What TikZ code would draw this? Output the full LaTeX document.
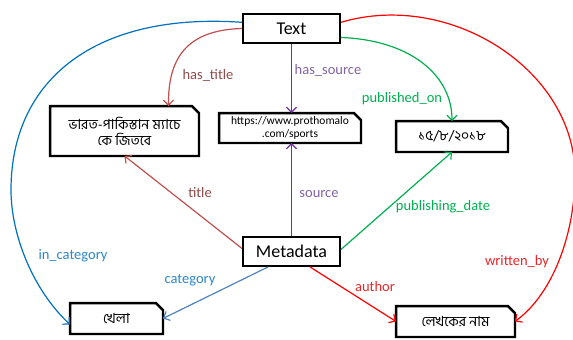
\documentclass[tikz,border=0pt]{standalone}
\usepackage{fontspec}
\setmainfont{Carlito}
\newfontfamily\bn[Script=Bengali]{Hind Siliguri}
\usetikzlibrary{arrows.meta,calc}
\definecolor{cblue}{HTML}{0070C0}
\definecolor{cblue2}{HTML}{4F81BD}
\definecolor{cblueT}{HTML}{2E86C8}
\definecolor{cbrown}{HTML}{C0504D}
\definecolor{cbrownT}{HTML}{8E4B49}
\definecolor{cpurple}{HTML}{7030A0}
\definecolor{cpurpleT}{HTML}{8064A2}
\definecolor{cgreen}{HTML}{00B050}
\definecolor{cred}{HTML}{FF0000}
\definecolor{credT}{HTML}{E8262A}
\tikzset{
  plainbox/.style={draw, line width=2.4pt, inner sep=0pt, outer sep=1.2pt, align=center},
  snipbox/.style={inner sep=0pt, outer sep=1.2pt, align=center},
  conn/.style={line width=1.2pt, -{Straight Barb[length=5pt,width=10pt]}},
  plainline/.style={line width=1.2pt},
  lbl/.style={inner sep=1pt, font=\fontsize{14.5}{16}\selectfont},
}
\begin{document}
\begin{tikzpicture}[x=1pt,y=-1pt]
\useasboundingbox (0,0) rectangle (573,340);
% nodes
\node[plainbox, minimum width=96.5pt, minimum height=28.5pt, font=\fontsize{18}{20}\selectfont] (txt) at (291.5,28.5) {Text};
\node[plainbox, minimum width=96.5pt, minimum height=28.5pt, font=\fontsize{18}{20}\selectfont] (meta) at (291.5,251.5) {Metadata};
\node[snipbox, minimum width=146.5pt, minimum height=47.5pt, font=\bn\fontsize{14}{16}\selectfont] (ttl) at (124.5,131) {ভারত-পাকিস্তান ম্যাচে\\কে জিতবে};
\node[snipbox, minimum width=139.5pt, minimum height=27.5pt, font=\fontsize{11.5}{13.5}\selectfont] (url) at (290,128) {https://www.prothomalo\\.com/sports};
\node[snipbox, minimum width=109.5pt, minimum height=28.5pt, font=\bn\fontsize{14}{16}\selectfont] (date) at (452,136.5) {১৫/৮/২০১৮};
\node[snipbox, minimum width=90.5pt, minimum height=28.5pt, font=\bn\fontsize{14}{16}\selectfont] (khela) at (116.5,318.5) {খেলা};
\node[snipbox, minimum width=116.5pt, minimum height=28.5pt, font=\bn\fontsize{14}{16}\selectfont] (lekhok) at (455.5,321.5) {লেখকের নাম};
\foreach \n in {ttl,url,date,khela,lekhok}{
  \draw[line width=2.4pt, line join=miter]
    (\n.south west) -- (\n.north west) -- ($(\n.north east)+(-7,0)$) -- ($(\n.north east)+(0,7)$) -- (\n.south east) -- cycle;
}
% connectors
\draw[conn, cblue] ($(txt.north west)!0.3!(txt.south west)$) .. controls (95,12) and (11,80) .. (11,190) .. controls (11,235) and (33,290) .. ($(khela.west)+(0,6)$);
\draw[conn, cred] ($(txt.north east)!0.3!(txt.south east)$) .. controls (450,-10) and (575,70) .. (575,175) .. controls (575,230) and (555,292) .. (lekhok.east);
\draw[conn, cbrown] (txt.west) .. controls (185,30) and (168,60) .. ($(ttl.north)+(44,0)$);
\draw[conn, cgreen] ($(txt.east)+(0,9)$) .. controls (410,40) and (452,75) .. (date.north);
\draw[conn, cpurple] (txt.south) -- (txt.south |- url.north);
\draw[conn, cpurple] (meta.north) -- (meta.north |- url.south);
\draw[conn, cbrown] ($(meta.west)+(0,-3)$) -- (ttl.south);
\draw[conn, cgreen] ($(meta.east)+(0,-2)$) -- (date.south);
\draw[conn, cblue2] ($(meta.south west)+(26,0)$) -- (khela.east);
\draw[conn, cred] ($(meta.south west)+(68,0)$) -- (lekhok.west);
% labels
\node[lbl, text=cbrownT] (l1) at (208,75) {has\_title};
\node[lbl, text=cpurpleT] (l2) at (328,70) {has\_source};
\node[lbl, text=cgreen] (l3) at (402,99) {published\_on};
\node[lbl, text=cbrownT] (l4) at (200,193) {title};
\node[lbl, text=cpurpleT] (l5) at (319,194) {source};
\node[lbl, text=cgreen] (l6) at (443,207) {publishing\_date};
\node[lbl, text=cblueT] (l7) at (73,256) {in\_category};
\node[lbl, text=cblueT] (l8) at (190,280) {category};
\node[lbl, text=credT] (l9) at (375,287) {author};
\node[lbl, text=credT] (l10) at (517,262) {written\_by};
\end{tikzpicture}
\end{document}
